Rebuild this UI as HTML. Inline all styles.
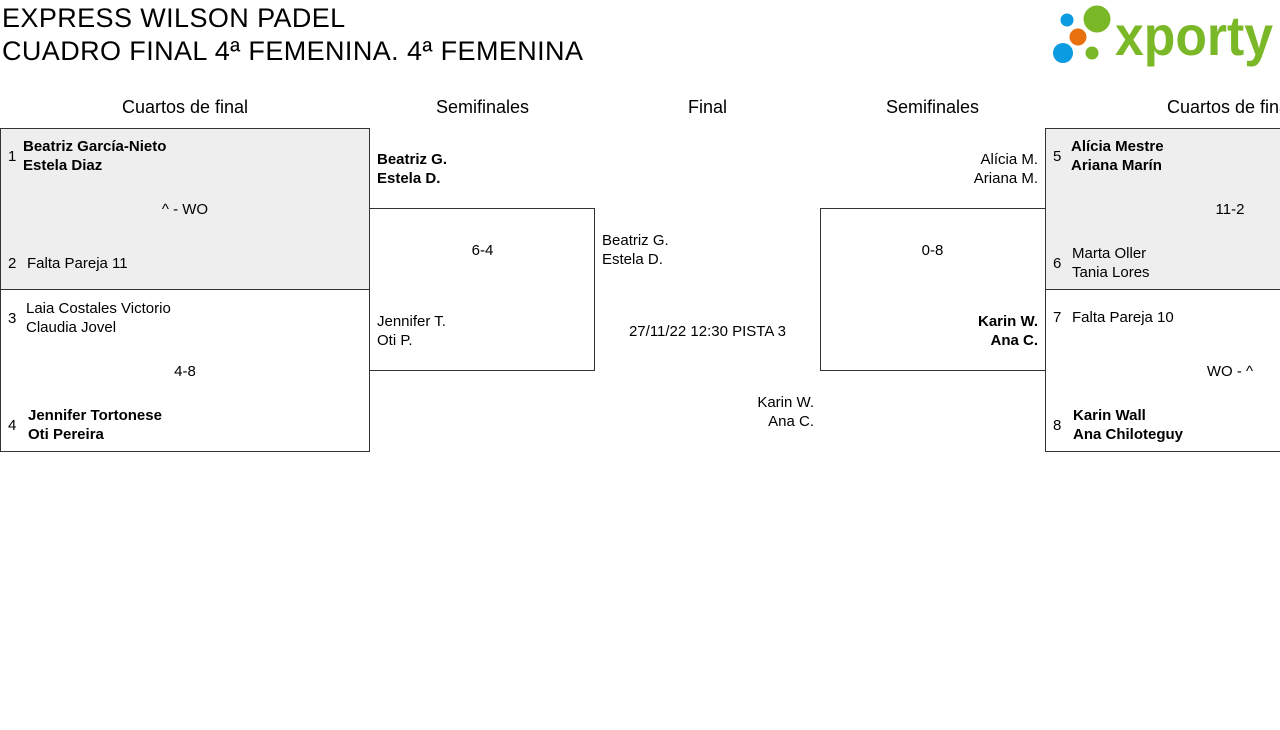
<!DOCTYPE html>
<html><head><meta charset="utf-8"><style>
body{margin:0;width:1280px;height:730px;overflow:hidden;background:#fff;font-family:"Liberation Sans",sans-serif;color:#000;position:relative}
div{position:absolute}
.t{font-size:15px;line-height:19px;white-space:nowrap;margin-top:1px}
.b{font-weight:bold}
.h{font-size:18px;line-height:22px;top:96px;text-align:center}
.box{border:1px solid #333;box-sizing:border-box}
.r{text-align:right}
</style></head><body>
<div style="left:2px;top:2px;font-size:27px;line-height:33px;white-space:nowrap;letter-spacing:0.4px">EXPRESS WILSON PADEL<br>CUADRO FINAL 4ª FEMENINA. 4ª FEMENINA</div>
<svg style="position:absolute;left:1045px;top:0" width="235" height="75">
<circle cx="22" cy="20" r="6.5" fill="#0a9be0"/>
<circle cx="52" cy="19" r="13.5" fill="#7ab828"/>
<circle cx="33" cy="37" r="8.5" fill="#e8700e"/>
<circle cx="18" cy="53" r="10" fill="#0a9be0"/>
<circle cx="47" cy="53" r="6.5" fill="#7ab828"/>
<text x="70" y="55" font-family="Liberation Sans" font-weight="bold" font-size="56" fill="#7ab828" textLength="158" lengthAdjust="spacingAndGlyphs">xporty</text>
</svg>
<div class="h" style="left:0;width:370px">Cuartos de final</div>
<div class="h" style="left:370px;width:225px">Semifinales</div>
<div class="h" style="left:595px;width:225px">Final</div>
<div class="h" style="left:820px;width:225px">Semifinales</div>
<div class="h" style="left:1045px;width:370px">Cuartos de final</div>

<div class="box" style="left:0;top:128px;width:370px;height:162px;background:#eee"></div>
<div class="box" style="left:0;top:289px;width:370px;height:163px"></div>
<div class="box" style="left:369px;top:208px;width:226px;height:163px"></div>
<div class="box" style="left:820px;top:208px;width:226px;height:163px"></div>
<div class="box" style="left:1045px;top:128px;width:370px;height:162px;background:#eee"></div>
<div class="box" style="left:1045px;top:289px;width:370px;height:163px"></div>

<div class="t" style="left:8px;top:146px">1</div>
<div class="t b" style="left:23px;top:136px">Beatriz García-Nieto<br>Estela Diaz</div>
<div class="t" style="left:0;width:370px;text-align:center;top:199px">^ - WO</div>
<div class="t" style="left:8px;top:253px">2</div>
<div class="t" style="left:27px;top:253px">Falta Pareja 11</div>
<div class="t" style="left:8px;top:308px">3</div>
<div class="t" style="left:26px;top:298px">Laia Costales Victorio<br>Claudia Jovel</div>
<div class="t" style="left:0;width:370px;text-align:center;top:361px">4-8</div>
<div class="t" style="left:8px;top:415px">4</div>
<div class="t b" style="left:28px;top:405px">Jennifer Tortonese<br>Oti Pereira</div>

<div class="t b" style="left:377px;top:149px">Beatriz G.<br>Estela D.</div>
<div class="t" style="left:370px;width:225px;text-align:center;top:240px">6-4</div>
<div class="t" style="left:377px;top:311px">Jennifer T.<br>Oti P.</div>

<div class="t" style="left:602px;top:230px">Beatriz G.<br>Estela D.</div>
<div class="t" style="left:595px;width:225px;text-align:center;top:321px">27/11/22 12:30 PISTA 3</div>
<div class="t r" style="left:600px;width:214px;top:392px">Karin W.<br>Ana C.</div>

<div class="t r" style="left:820px;width:218px;top:149px">Alícia M.<br>Ariana M.</div>
<div class="t" style="left:820px;width:225px;text-align:center;top:240px">0-8</div>
<div class="t b r" style="left:820px;width:218px;top:311px">Karin W.<br>Ana C.</div>

<div class="t" style="left:1053px;top:146px">5</div>
<div class="t b" style="left:1071px;top:136px">Alícia Mestre<br>Ariana Marín</div>
<div class="t" style="left:1045px;width:370px;text-align:center;top:199px">11-2</div>
<div class="t" style="left:1053px;top:253px">6</div>
<div class="t" style="left:1072px;top:243px">Marta Oller<br>Tania Lores</div>
<div class="t" style="left:1053px;top:307px">7</div>
<div class="t" style="left:1072px;top:307px">Falta Pareja 10</div>
<div class="t" style="left:1045px;width:370px;text-align:center;top:361px">WO - ^</div>
<div class="t" style="left:1053px;top:415px">8</div>
<div class="t b" style="left:1073px;top:405px">Karin Wall<br>Ana Chiloteguy</div>
</body></html>
